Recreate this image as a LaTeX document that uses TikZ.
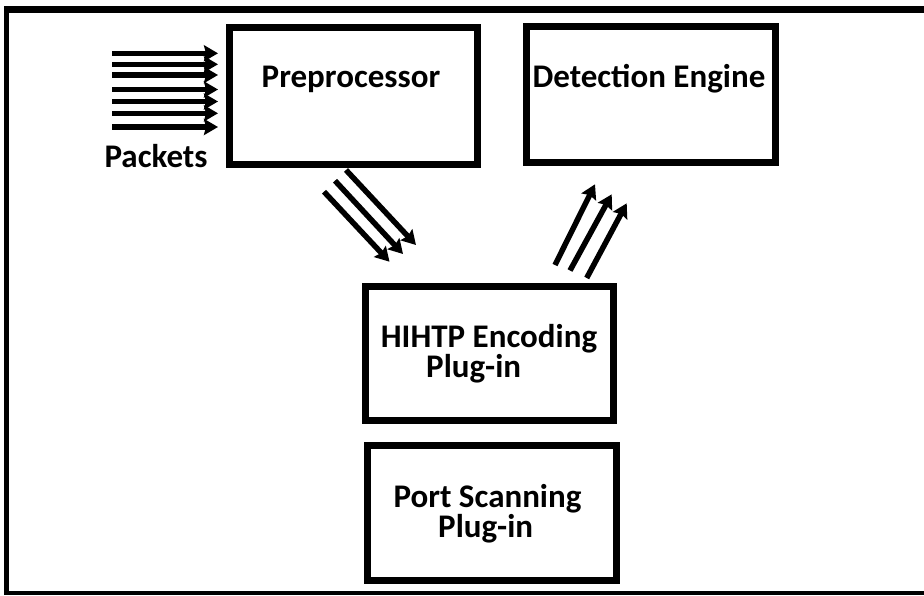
\documentclass[tikz,border=0pt]{standalone}
\usepackage{fontspec}
\setmainfont{Carlito}
\usetikzlibrary{arrows.meta}
\begin{document}
\begin{tikzpicture}[x=1pt,y=-1pt,
  blockbox/.style={draw=black,line width=7pt,rectangle,inner sep=0pt,fill=white},
  lbl/.style={font=\fontsize{33}{36}\selectfont\bfseries,text=black,inner sep=0pt,anchor=base},
  flow/.style={line width=5.5pt,draw=black,-{Stealth[length=14pt,width=16pt,inset=2pt]}}]
  \useasboundingbox (0,0) rectangle (924,595);
  \fill[white] (0,0) rectangle (924,595);
  % outer frame (open on the right)
  \fill[black] (4,6) rectangle (924,13);
  \fill[black] (4,6) rectangle (8.5,595);
  \fill[black] (4,590.8) rectangle (924,595);

  % blocks
  \node[blockbox,minimum width=248.5pt,minimum height=136.5pt] (pre) at (353.25,95.75) {};
  \node[blockbox,minimum width=248.5pt,minimum height=136pt] (det) at (650.75,94) {};
  \node[blockbox,minimum width=248pt,minimum height=134.5pt] (http) at (489.5,353.25) {};
  \node[blockbox,minimum width=249pt,minimum height=135.5pt] (port) at (492,512.75) {};

  % labels
  \node[lbl] (preT) at (351,87) {Preprocessor};
  \node[lbl] (detT) at (649,87) {Detection Engine};
  \node[lbl] (httpA) at (489,347) {HIHTP Encoding};
  \node[lbl,anchor=base west] (httpB) at (426,377) {Plug-in};
  \node[lbl] (portA) at (487.5,507) {Port Scanning};
  \node[lbl,anchor=base west] (portB) at (438,537) {Plug-in};
  \node[lbl] (pkt) at (156,167) {Packets};

  % incoming packet arrows
  \foreach \i/\yy in {1/53.3,2/64.3,3/75,4/89.5,5/101.5,6/113.3,7/127} {
    \coordinate (ps\i) at (112,\yy);
    \coordinate (pe\i) at (218,\yy);
    \draw[flow] (ps\i) -- (pe\i);
  }

  % preprocessor to plug-in
  \coordinate (d1s) at (324,191.7);  \coordinate (d1e) at (389.5,261.7);
  \coordinate (d2s) at (335,180.7);  \coordinate (d2e) at (403,254);
  \coordinate (d3s) at (346,170);    \coordinate (d3e) at (416,245);
  \draw[flow] (d1s) -- (d1e);
  \draw[flow] (d2s) -- (d2e);
  \draw[flow] (d3s) -- (d3e);

  % plug-in to detection engine
  \coordinate (u1s) at (555,265);    \coordinate (u1e) at (595,184.3);
  \coordinate (u2s) at (570,270.5);  \coordinate (u2e) at (611.7,194.3);
  \coordinate (u3s) at (586.7,278);  \coordinate (u3e) at (626.7,203.3);
  \draw[flow] (u1s) -- (u1e);
  \draw[flow] (u2s) -- (u2e);
  \draw[flow] (u3s) -- (u3e);
\end{tikzpicture}
\end{document}
